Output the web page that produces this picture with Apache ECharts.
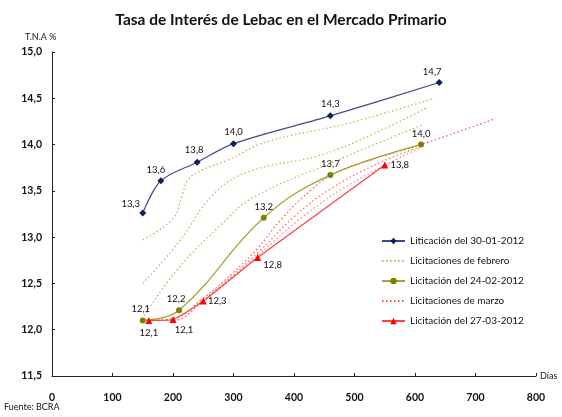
<!DOCTYPE html>
<html>
<head>
<meta charset="utf-8">
<script src="https://cdn.jsdelivr.net/npm/echarts@6/dist/echarts.min.js"></script>
<style>
html,body{margin:0;padding:0;background:#fff;}
#chart{width:562px;height:417px;}
</style>
</head>
<body>
<div id="chart"></div>
<script>
// licitacion 30-01-2012 (dias, tasa)
var dias3001 = [150, 180, 240, 300, 460, 640];
var tasa3001 = [13.26, 13.61, 13.81, 14.01, 14.31, 14.67];

// licitacion 24-02-2012
var dias2402 = [150, 210, 350, 460, 610];
var tasa2402 = [12.10, 12.21, 13.21, 13.67, 14.0];

// licitacion 27-03-2012
var dias2703 = [160, 200, 250, 340, 550];
var tasa2703 = [12.10, 12.11, 12.31, 12.78, 13.78];

// licitaciones de febrero (punteadas)
var febA = [[150,12.97],[200,13.2],[215,13.45],[225,13.62],[250,13.73],[290,13.83],[355,14.03],[490,14.23],[632,14.5]];
var febB = [[150,12.5],[210,12.95],[265,13.45],[322,13.7],[460,13.92],[620,14.4]];
var febC = [[152,12.15],[211,12.68],[282,13.15],[330,13.42],[460,13.8],[615,14.22]];

// licitaciones de marzo (punteadas)
var marA = [[155,12.1],[200,12.12],[250,12.34],[300,12.62],[340,12.88],[380,13.2],[430,13.52],[470,13.7],[530,13.84],[610,14.0],[733,14.28]];
var marB = [[155,12.1],[200,12.1],[250,12.32],[340,12.83],[400,13.22],[460,13.52],[540,13.8],[610,13.98]];
var marC = [[155,12.1],[200,12.1],[250,12.31],[340,12.8],[420,13.25],[500,13.6],[610,13.97]];

var xTicks = [0, 100, 200, 300, 400, 500, 600, 700, 800];
var yTicks = [11.5, 12, 12.5, 13, 13.5, 14, 14.5, 15];

var fmt = function (v) { return v.toFixed(1).replace('.', ','); };
var FONT = 'Lato';

// label offsets (px) for each point
var off3001 = [[-12,-9],[-5,-11],[-3,-12],[0,-12],[0,-12],[-7,-11]];
var off2402 = [[-2,-12],[-3,-11],[0,-11],[0,-11],[0,-11]];
var off2703 = [[0,12],[11,10],[14,0],[15,7],[15,0]];

function pts(xs, ys, offs) {
    return xs.map(function (x, i) {
        return {
            value: [x, ys[i]],
            label: { show: true, position: 'inside', offset: offs[i], formatter: fmt(ys[i]), color: '#111', fontSize: 9.5, fontFamily: FONT }
        };
    });
}

function dotted(name, data, color) {
    return {
        name: name, type: 'line', data: data, smooth: 0.4, symbol: 'none', z: 1,
        lineStyle: { color: color, width: 1.2, type: [1.5, 2.5] }, itemStyle: { color: color }
    };
}

var chart = echarts.init(document.getElementById('chart'));
var option = {
    animation: false,
    title: {
        text: 'Tasa de Interés de Lebac en el Mercado Primario',
        left: 'center', top: 7,
        textStyle: { fontSize: 15.5, fontWeight: 'bold', color: '#111', fontFamily: FONT }
    },
    grid: { left: 52, right: 26, top: 52, bottom: 41 },
    legend: {
        orient: 'vertical', left: 376, top: 231,
        itemWidth: 23, itemHeight: 8, itemGap: 10,
        textStyle: { fontSize: 10, color: '#111', fontFamily: FONT },
        data: [
            'Liticación del 30-01-2012',
            { name: 'Licitaciones de febrero', itemStyle: { opacity: 0 } },
            'Licitación del 24-02-2012',
            { name: 'Licitaciones de marzo', itemStyle: { opacity: 0 } },
            'Licitación del 27-03-2012'
        ]
    },
    xAxis: {
        type: 'value', min: xTicks[0], max: xTicks[xTicks.length - 1], interval: 100,
        name: 'Días', nameLocation: 'end', nameGap: 4,
        nameTextStyle: { fontSize: 9, color: '#111', fontFamily: FONT, verticalAlign: 'middle' },
        axisLine: { lineStyle: { color: '#222', width: 1 } },
        axisTick: { inside: true, length: 3, lineStyle: { color: '#222' } },
        axisLabel: { fontSize: 10.5, fontWeight: 'bold', color: '#111', margin: 16, fontFamily: FONT },
        splitLine: { show: false }
    },
    yAxis: {
        type: 'value', min: yTicks[0], max: yTicks[yTicks.length - 1], interval: 0.5,
        axisLine: { show: true, lineStyle: { color: '#222', width: 1 } },
        axisTick: { show: true, inside: true, length: 3, lineStyle: { color: '#222' } },
        axisLabel: { fontSize: 10.5, fontWeight: 'bold', color: '#111', margin: 10, fontFamily: FONT, formatter: fmt },
        splitLine: { show: false }
    },
    graphic: [
        { type: 'text', left: 25, top: 33, style: { text: 'T.N.A %', fontSize: 9, fill: '#111', fontFamily: FONT } },
        { type: 'text', left: 4, top: 403, style: { text: 'Fuente: BCRA', fontSize: 9, fill: '#111', fontFamily: FONT } }
    ],
    series: [
        {
            name: 'Liticación del 30-01-2012', type: 'line', smooth: 0.3, z: 5,
            data: pts(dias3001, tasa3001, off3001),
            symbol: 'diamond', symbolSize: 7,
            lineStyle: { color: '#3c4d8c', width: 1.2 }, itemStyle: { color: '#0d1f5c' }
        },
        dotted('Licitaciones de febrero', febA, '#b3b34d'),
        dotted('Licitaciones de febrero', febB, '#b3b34d'),
        dotted('Licitaciones de febrero', febC, '#b3b34d'),
        {
            name: 'Licitación del 24-02-2012', type: 'line', smooth: 0.4, z: 5,
            data: pts(dias2402, tasa2402, off2402),
            symbol: 'circle', symbolSize: 6,
            lineStyle: { color: '#a3a32e', width: 1.2 }, itemStyle: { color: '#7f7f00' }
        },
        dotted('Licitaciones de marzo', marA, '#ff4d4d'),
        dotted('Licitaciones de marzo', marB, '#ff6666'),
        dotted('Licitaciones de marzo', marC, '#ff8080'),
        {
            name: 'Licitación del 27-03-2012', type: 'line', smooth: 0.15, z: 5,
            data: pts(dias2703, tasa2703, off2703),
            symbol: 'triangle', symbolSize: 7,
            lineStyle: { color: '#ff4040', width: 1.2 }, itemStyle: { color: '#ff0000' }
        }
    ]
};
chart.setOption(option);
</script>
</body>
</html>
